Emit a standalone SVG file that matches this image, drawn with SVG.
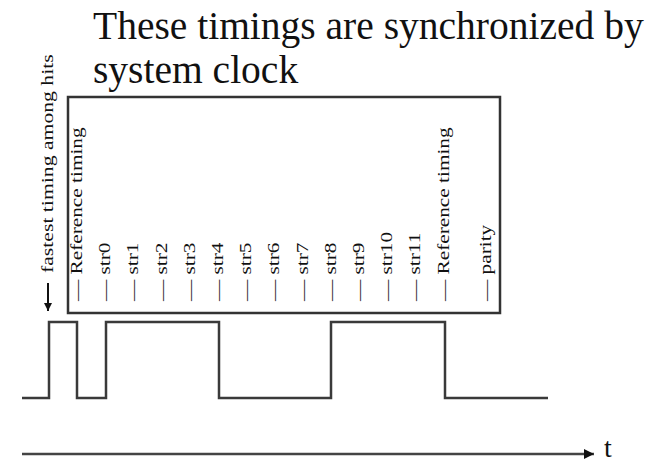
<svg xmlns="http://www.w3.org/2000/svg" width="662" height="463" viewBox="0 0 662 463">
<style>
.title{font-family:"Liberation Serif","Times New Roman",serif;font-size:39.5px;fill:#111}
.lbl{font-family:"Liberation Serif","Times New Roman",serif;font-size:16px;fill:#111}
.wave{fill:none;stroke:#3a3a3a;stroke-width:2.5;stroke-linejoin:miter}
.box{fill:none;stroke:#333;stroke-width:2.5}
.axis{stroke:#444;stroke-width:2.5}
</style>
<defs>
<marker id="ah" viewBox="0 0 10 10" refX="10" refY="5" markerWidth="4" markerHeight="4" orient="auto" markerUnits="strokeWidth">
<path d="M0,0 L10,5 L0,10 z" fill="#111"/>
</marker>
</defs>
<rect width="662" height="463" fill="#fff"/>
<g id="title">
<text class="title" x="93" y="39">These timings are synchronized by</text>
<text class="title" x="93" y="83">system clock</text>
</g>
<g id="clock-box">
<rect class="box" x="68" y="97" width="432" height="216"/>
</g>
<g id="fastest">
<text class="lbl" transform="translate(53,273) rotate(-90) scale(1.24,1)" style="font-size:17.5px">fastest timing among hits</text>
</g>
<g id="labels">
<text class="lbl" transform="translate(82,301) rotate(-90) scale(1.33,1)">— Reference timing</text>
<text class="lbl" transform="translate(110.2,301) rotate(-90) scale(1.33,1)">— str0</text>
<text class="lbl" transform="translate(138.4,301) rotate(-90) scale(1.33,1)">— str1</text>
<text class="lbl" transform="translate(166.6,301) rotate(-90) scale(1.33,1)">— str2</text>
<text class="lbl" transform="translate(194.8,301) rotate(-90) scale(1.33,1)">— str3</text>
<text class="lbl" transform="translate(223,301) rotate(-90) scale(1.33,1)">— str4</text>
<text class="lbl" transform="translate(251.2,301) rotate(-90) scale(1.33,1)">— str5</text>
<text class="lbl" transform="translate(279.4,301) rotate(-90) scale(1.33,1)">— str6</text>
<text class="lbl" transform="translate(307.6,301) rotate(-90) scale(1.33,1)">— str7</text>
<text class="lbl" transform="translate(335.8,301) rotate(-90) scale(1.33,1)">— str8</text>
<text class="lbl" transform="translate(364,301) rotate(-90) scale(1.33,1)">— str9</text>
<text class="lbl" transform="translate(392.2,301) rotate(-90) scale(1.33,1)">— str10</text>
<text class="lbl" transform="translate(420.4,301) rotate(-90) scale(1.33,1)">— str11</text>
<text class="lbl" transform="translate(448.6,301) rotate(-90) scale(1.33,1)">— Reference timing</text>
<text class="lbl" transform="translate(491,301) rotate(-90) scale(1.33,1)">— parity</text>
</g>
<g id="connectors">
<line x1="48" y1="283" x2="48" y2="311" stroke="#111" stroke-width="2" marker-end="url(#ah)"/>
<polyline class="wave" points="22,398 49,398 49,322 77,322 77,398 106,398 106,322 219,322 219,398 331,398 331,322 445,322 445,398 548,398"/>
<line class="axis" x1="22" y1="454" x2="594" y2="454" marker-end="url(#ah)"/>
</g>
<g id="t-label">
<text class="title" x="604" y="457" style="font-size:28px">t</text>
</g>
</svg>
